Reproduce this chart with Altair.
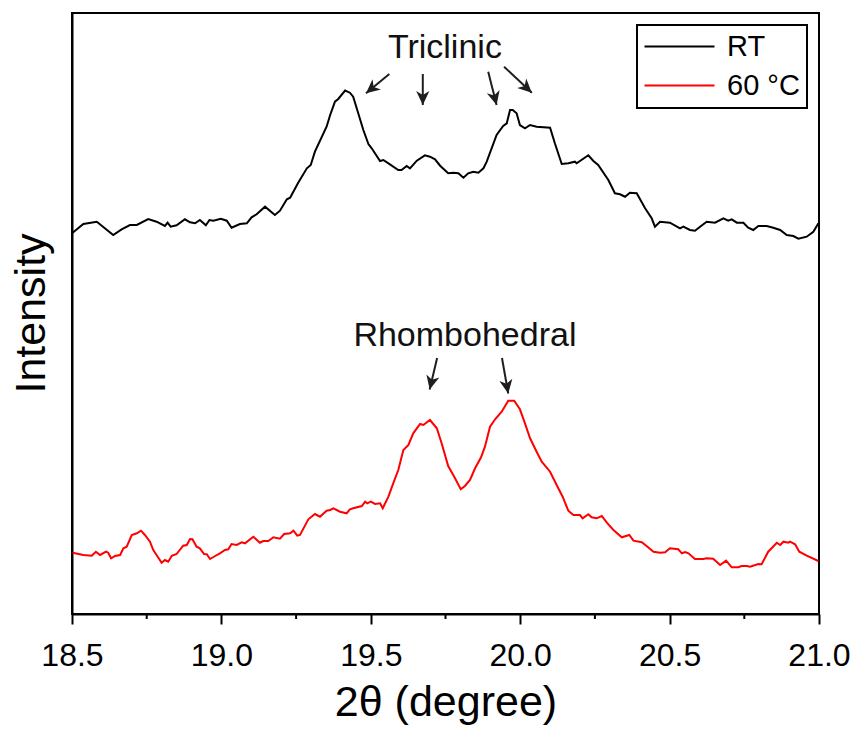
import math
import altair as alt
import pandas as pd

# ---------------- data ----------------
rt_theta = [18.502, 18.538, 18.583, 18.638, 18.666, 18.694, 18.717, 18.755, 18.783, 18.811,
            18.820, 18.830, 18.850, 18.878, 18.895, 18.912, 18.928, 18.948, 18.960, 18.973,
            18.998, 19.018, 19.034, 19.062, 19.085, 19.101, 19.118, 19.146, 19.179, 19.196,
            19.219, 19.230, 19.257, 19.286, 19.299, 19.313, 19.352, 19.364, 19.380, 19.391,
            19.414, 19.430, 19.441, 19.458, 19.475, 19.492, 19.503, 19.531, 19.542, 19.559,
            19.592, 19.603, 19.620, 19.631, 19.654, 19.681, 19.698, 19.715, 19.732, 19.759,
            19.776, 19.793, 19.810, 19.826, 19.843, 19.860, 19.877, 19.888, 19.921, 19.943,
            19.955, 19.966, 19.975, 19.988, 19.999, 20.016, 20.033, 20.055, 20.100, 20.116,
            20.139, 20.161, 20.183, 20.189, 20.228, 20.245, 20.261, 20.295, 20.317, 20.334,
            20.351, 20.367, 20.390, 20.418, 20.440, 20.451, 20.468, 20.501, 20.535, 20.546,
            20.568, 20.585, 20.602, 20.624, 20.652, 20.680, 20.696, 20.708, 20.725, 20.747,
            20.763, 20.780, 20.797, 20.825, 20.847, 20.870, 20.892, 20.914, 20.931, 20.959,
            20.981, 20.998]
rt_intensity = [381.3, 390.0, 392.3, 379.0, 384.7, 389.0, 389.0, 395.0, 392.3, 388.0,
                391.3, 387.3, 388.7, 394.7, 391.7, 390.7, 394.0, 388.7, 394.0, 393.3,
                395.3, 393.3, 386.3, 390.0, 390.7, 396.7, 399.7, 407.3, 399.0, 403.3,
                414.7, 416.3, 431.3, 445.7, 449.0, 462.3, 487.3, 499.0, 512.3, 515.0,
                523.5, 521.3, 517.3, 500.7, 484.0, 470.0, 465.7, 453.0, 454.0, 450.7,
                444.0, 444.0, 448.0, 445.7, 453.3, 458.7, 457.3, 454.7, 448.3, 440.7,
                441.3, 440.7, 436.3, 440.7, 442.3, 441.3, 445.7, 452.3, 479.0, 488.0,
                490.7, 504.0, 504.0, 500.7, 489.0, 485.7, 489.0, 487.3, 486.3, 470.7,
                450.0, 450.7, 452.3, 450.7, 458.7, 453.0, 449.0, 434.0, 420.7, 419.7,
                417.3, 421.3, 420.7, 405.7, 395.7, 387.3, 392.3, 391.3, 385.7, 387.3,
                384.0, 383.3, 387.3, 392.3, 391.3, 395.7, 393.3, 394.7, 391.3, 391.3,
                386.3, 384.0, 388.0, 388.0, 386.3, 384.0, 379.0, 378.0, 375.3, 377.3,
                382.3, 390.7]

hot_theta = [18.502, 18.538, 18.566, 18.580, 18.594, 18.614, 18.621, 18.631, 18.644, 18.661,
             18.672, 18.683, 18.700, 18.717, 18.731, 18.744, 18.761, 18.772, 18.783, 18.800,
             18.811, 18.822, 18.834, 18.850, 18.872, 18.884, 18.895, 18.903, 18.917, 18.928,
             18.942, 18.951, 18.962, 18.979, 18.995, 19.012, 19.023, 19.034, 19.051, 19.068,
             19.079, 19.107, 19.129, 19.140, 19.157, 19.174, 19.196, 19.210, 19.230, 19.241,
             19.254, 19.263, 19.291, 19.313, 19.330, 19.352, 19.364, 19.375, 19.397, 19.419,
             19.430, 19.441, 19.470, 19.481, 19.488, 19.500, 19.514, 19.531, 19.540, 19.559,
             19.575, 19.592, 19.609, 19.626, 19.642, 19.665, 19.676, 19.698, 19.721, 19.737,
             19.759, 19.776, 19.785, 19.801, 19.815, 19.832, 19.849, 19.869, 19.882, 19.899,
             19.916, 19.938, 19.960, 19.980, 19.999, 20.016, 20.033, 20.055, 20.072, 20.100,
             20.122, 20.142, 20.161, 20.178, 20.200, 20.209, 20.228, 20.239, 20.256, 20.273,
             20.290, 20.312, 20.340, 20.365, 20.379, 20.407, 20.423, 20.446, 20.468, 20.485,
             20.501, 20.529, 20.541, 20.552, 20.563, 20.585, 20.613, 20.624, 20.646, 20.669,
             20.689, 20.708, 20.730, 20.741, 20.758, 20.769, 20.797, 20.808, 20.830, 20.859,
             20.870, 20.881, 20.897, 20.903, 20.920, 20.934, 20.959, 20.998]
hot_intensity = [61.3, 59.0, 58.3, 62.3, 59.0, 62.3, 61.3, 55.7, 58.0, 59.0,
                 65.7, 67.3, 79.0, 80.7, 83.3, 79.0, 72.3, 64.0, 59.0, 51.3,
                 54.0, 52.3, 58.3, 60.0, 68.3, 69.0, 75.0, 74.7, 67.3, 65.7,
                 60.0, 59.7, 55.0, 58.0, 60.7, 64.0, 64.7, 70.0, 69.0, 71.7,
                 70.7, 77.3, 71.3, 73.0, 73.0, 76.7, 75.3, 80.0, 80.7, 83.3,
                 78.3, 79.0, 94.7, 100.0, 97.3, 103.3, 104.0, 105.7, 102.3, 100.7,
                 104.7, 105.7, 108.0, 112.3, 110.7, 112.3, 110.0, 110.7, 105.7, 117.3,
                 130.7, 144.0, 164.0, 169.0, 180.7, 190.0, 189.0, 194.0, 185.7, 170.7,
                 148.0, 139.0, 134.0, 124.7, 128.0, 134.0, 145.7, 156.7, 167.3, 187.3,
                 194.7, 202.3, 213.3, 213.3, 204.7, 190.7, 175.7, 162.3, 152.3, 142.3,
                 129.0, 117.3, 103.3, 99.0, 99.0, 95.7, 99.7, 96.7, 95.7, 98.0,
                 91.3, 84.0, 76.7, 79.0, 73.3, 71.7, 68.0, 62.3, 61.3, 61.7,
                 65.7, 64.7, 60.7, 62.0, 60.7, 55.0, 55.0, 55.7, 55.3, 49.0,
                 53.3, 46.7, 46.7, 48.0, 48.0, 47.3, 50.0, 49.7, 62.3, 71.3,
                 69.0, 72.3, 71.3, 72.3, 69.7, 62.3, 58.3, 53.0]

series_names = ["RT", "60 °C"]
series_colors = ["#000000", "#ff0000"]

major_ticks = [18.5, 19.0, 19.5, 20.0, 20.5, 21.0]
minor_ticks = [18.75, 19.25, 19.75, 20.25, 20.75]

# annotation arrows (start -> end, data units)
arrow_x = [19.562, 19.674, 19.893, 19.946, 19.722, 19.939]
arrow_y = [540.0, 540.0, 542.3, 547.3, 256.0, 256.0]
arrow_x2 = [19.484, 19.674, 19.921, 20.039, 19.697, 19.960]
arrow_y2 = [520.7, 509.0, 509.0, 521.3, 224.5, 220.5]

label_text = ["Triclinic", "Rhombohedral"]
label_x = [19.748, 19.815]
label_y = [556.0, 268.0]

# ---------------- layout ----------------
X_DOMAIN = [18.5, 21.0]
Y_DOMAIN = [0, 601]
W, H = 747, 601
FONT = "Liberation Sans"

xs = alt.Scale(domain=X_DOMAIN, nice=False, zero=False)
ys = alt.Scale(domain=Y_DOMAIN, nice=False, zero=False)

lines_df = pd.concat([
    pd.DataFrame({"two_theta": rt_theta, "intensity": rt_intensity, "series": series_names[0]}),
    pd.DataFrame({"two_theta": hot_theta, "intensity": hot_intensity, "series": series_names[1]}),
], ignore_index=True)

px_per_x = W / (X_DOMAIN[1] - X_DOMAIN[0])
px_per_y = H / (Y_DOMAIN[1] - Y_DOMAIN[0])
angles = []
for x1, y1, x2, y2 in zip(arrow_x, arrow_y, arrow_x2, arrow_y2):
    dx = (x2 - x1) * px_per_x
    dy = -(y2 - y1) * px_per_y
    angles.append(math.degrees(math.atan2(dx, -dy)) % 360)

arrows_df = pd.DataFrame({"two_theta": arrow_x, "intensity": arrow_y,
                          "two_theta_end": arrow_x2, "intensity_end": arrow_y2,
                          "angle": angles})
labels_df = pd.DataFrame({"two_theta": label_x, "intensity": label_y, "text": label_text})
minor_df = pd.DataFrame({"two_theta": minor_ticks})

x_axis = alt.Axis(title="2θ (degree)", values=major_ticks, format=".1f",
                  labelFontSize=32, labelFont=FONT, labelColor="black", labelFlush=False,
                  labelPadding=16, tickSize=10, tickWidth=2, tickColor="black",
                  domainColor="black", domainWidth=2, grid=False,
                  titleFontSize=43, titleFont=FONT, titleFontWeight="normal",
                  titleColor="black", titleY=101, titleBaseline="alphabetic")
y_axis = alt.Axis(title="Intensity", labels=False, ticks=False, grid=False,
                  domainColor="black", domainWidth=2,
                  titleFontSize=43, titleFont=FONT, titleFontWeight="normal",
                  titleColor="black", titleAngle=270, titleX=-28, titleY=300,
                  titleBaseline="alphabetic", titleAlign="center")

lines = alt.Chart(lines_df).mark_line(strokeWidth=2, clip=True).encode(
    x=alt.X("two_theta:Q", scale=xs, axis=x_axis),
    y=alt.Y("intensity:Q", scale=ys, axis=y_axis),
    color=alt.Color("series:N",
                    scale=alt.Scale(domain=series_names, range=series_colors),
                    sort=series_names,
                    legend=alt.Legend(title=None, orient="none", legendX=565, legendY=12,
                                      symbolType="M-1.4,0H5.6", symbolSize=400,
                                      symbolStrokeWidth=2, labelFontSize=29, labelFont=FONT,
                                      labelColor="black", labelOffset=54, padding=7,
                                      rowPadding=9, strokeColor="black")),
)

minor = alt.Chart(minor_df).mark_rule(color="black", strokeWidth=2).encode(
    x=alt.X("two_theta:Q", scale=xs),
    y=alt.value(H), y2=alt.value(H + 5),
)

arrow_lines = alt.Chart(arrows_df).mark_rule(color="#1e1e1e", strokeWidth=2).encode(
    x=alt.X("two_theta:Q", scale=xs), y=alt.Y("intensity:Q", scale=ys),
    x2="two_theta_end:Q", y2="intensity_end:Q",
)
arrow_heads = alt.Chart(arrows_df).mark_point(
    shape="M0,0L1,2.1L0,1.5L-1,2.1Z", filled=True, size=175,
    color="#1e1e1e", opacity=1, strokeWidth=0,
).encode(
    x=alt.X("two_theta_end:Q", scale=xs), y=alt.Y("intensity_end:Q", scale=ys),
    angle=alt.Angle("angle:Q", scale=None),
)

texts = alt.Chart(labels_df).mark_text(fontSize=34, font=FONT, color="#111111",
                                        baseline="alphabetic", align="center").encode(
    x=alt.X("two_theta:Q", scale=xs), y=alt.Y("intensity:Q", scale=ys), text="text:N",
)

chart = alt.layer(lines, minor, arrow_lines, arrow_heads, texts).properties(
    width=W, height=H,
    padding={"left": 72, "top": 13, "right": 41, "bottom": 115},
    autosize=alt.AutoSizeParams(type="none"),
    background="white",
).configure_view(stroke="black", strokeWidth=2).configure_legend(strokeWidth=2)

chart.save("out.html", embed_options={"renderer": "svg", "actions": False})
